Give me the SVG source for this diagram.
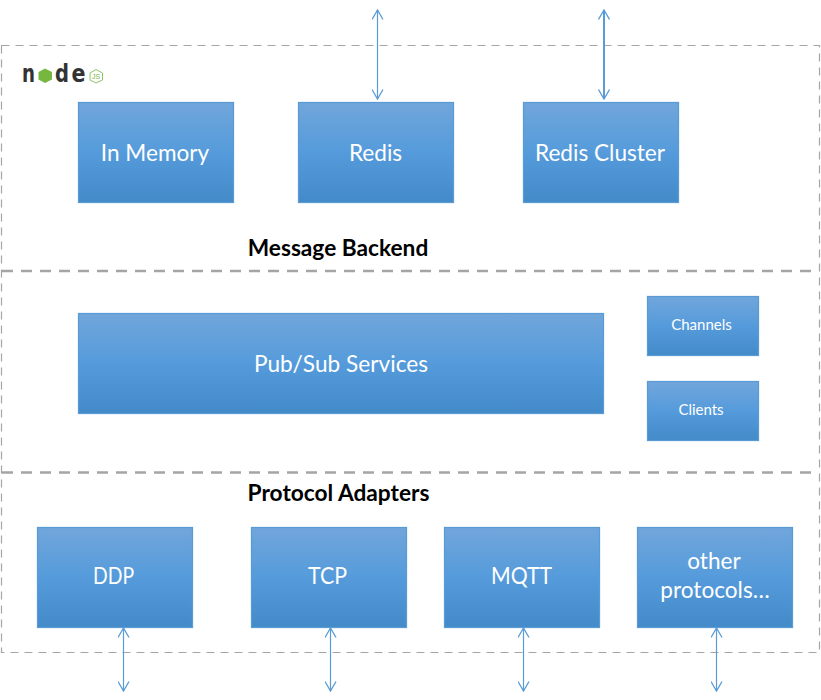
<svg xmlns="http://www.w3.org/2000/svg" width="821" height="700" viewBox="0 0 821 700">
<style>
.box{fill:url(#g);stroke:#5b9bd5;stroke-width:1.250}
.t{font-family:Lato,"Liberation Sans",sans-serif;fill:#fff;text-anchor:middle;font-size:22.600px}
.s{font-size:15px}
.h{font-family:Lato,"Liberation Sans",sans-serif;fill:#000;font-weight:700;font-size:22.700px;text-anchor:middle}
.dash{fill:none;stroke:#a5a5a5;stroke-width:1.200;stroke-dasharray:8 6}
.dash2{fill:none;stroke:#a5a5a5;stroke-width:2.600;stroke-dasharray:11 8}
.c{fill:none;stroke:#5b9bd5;stroke-width:1.200;marker-start:url(#a);marker-end:url(#a)}
.logo{font-family:"DejaVu Sans",sans-serif;font-weight:700;font-size:25px;fill:#333}
</style>
<defs>
<linearGradient id="g" x1="0" y1="0" x2="0" y2="1"><stop offset="0" stop-color="#71a6db"/><stop offset=".5" stop-color="#559bdb"/><stop offset="1" stop-color="#438ac9"/></linearGradient>
<marker id="a" viewBox="0 0 12 12" refX="11" refY="6" markerWidth="12" markerHeight="12" markerUnits="userSpaceOnUse" orient="auto-start-reverse"><path d="M1.500 .5 L11 6 L1.500 11.500" fill="none" stroke="#5b9bd5" stroke-width="1.300"/></marker>
</defs>
<rect width="821" height="700" fill="#fff"/>
<g id="frame">
<rect class="dash" x="1.500" y="45.500" width="818" height="607"/>
<path class="dash2" d="M2 271H819M2 472.500H819"/>
</g>
<g id="connectors">
<path class="c" d="M377.500 10V99"/>
<path class="c" d="M604 10V99" style="stroke-width:2"/>
<path class="c" d="M123.500 628V691"/>
<path class="c" d="M330.500 628V691"/>
<path class="c" d="M523.500 628V691"/>
<path class="c" d="M716.500 628V691"/>
</g>
<g id="node-logo">
<text class="logo" x="22" y="82" textLength="13" lengthAdjust="spacingAndGlyphs">n</text>
<polygon points="45,68.500 52,72 52,79.500 45,83 38.500,79.500 38.500,72" fill="#76b83f"/>
<text class="logo" x="55" y="82" textLength="14" lengthAdjust="spacingAndGlyphs">d</text>
<text class="logo" x="71.500" y="82" textLength="14" lengthAdjust="spacingAndGlyphs">e</text>
<polygon points="96,69.500 102.500,73 102.500,80 96,83 90,80 90,73" fill="#fff" stroke="#8cc665" stroke-width="1"/>
<text x="96" y="79" font-family="Liberation Sans,sans-serif" font-size="7" fill="#76b83f" text-anchor="middle">JS</text>
</g>
<g id="in-memory"><rect class="box" x="78.500" y="102.500" width="155" height="100"/><text class="t" x="155" y="160.500">In Memory</text></g>
<g id="redis"><rect class="box" x="298.500" y="102.500" width="155" height="100"/><text class="t" x="375.500" y="160.500">Redis</text></g>
<g id="redis-cluster"><rect class="box" x="523.500" y="102.500" width="155" height="100"/><text class="t" x="600" y="160.500">Redis Cluster</text></g>
<text class="h" x="338" y="256">Message Backend</text>
<g id="pubsub"><rect class="box" x="78.500" y="313.500" width="525" height="100"/><text class="t" x="341" y="371.500" textLength="174" lengthAdjust="spacing">Pub/Sub Services</text></g>
<g id="channels"><rect class="box" x="647.500" y="296.500" width="111" height="59"/><text class="t s" x="701.500" y="330">Channels</text></g>
<g id="clients"><rect class="box" x="647.500" y="381.500" width="111" height="59"/><text class="t s" x="701" y="415">Clients</text></g>
<text class="h" x="338.500" y="501">Protocol Adapters</text>
<g id="ddp"><rect class="box" x="37.500" y="527.500" width="155" height="100"/><text class="t" x="113.500" y="584" textLength="41" lengthAdjust="spacingAndGlyphs">DDP</text></g>
<g id="tcp"><rect class="box" x="251.500" y="527.500" width="155" height="100"/><text class="t" x="327.500" y="584" textLength="39" lengthAdjust="spacingAndGlyphs">TCP</text></g>
<g id="mqtt"><rect class="box" x="444.500" y="527.500" width="155" height="100"/><text class="t" x="521.500" y="584" textLength="61" lengthAdjust="spacingAndGlyphs">MQTT</text></g>
<g id="other"><rect class="box" x="637.500" y="527.500" width="155" height="100"/><text class="t" x="714" y="569">other</text><text class="t" x="715" y="598">protocols…</text></g>
</svg>
